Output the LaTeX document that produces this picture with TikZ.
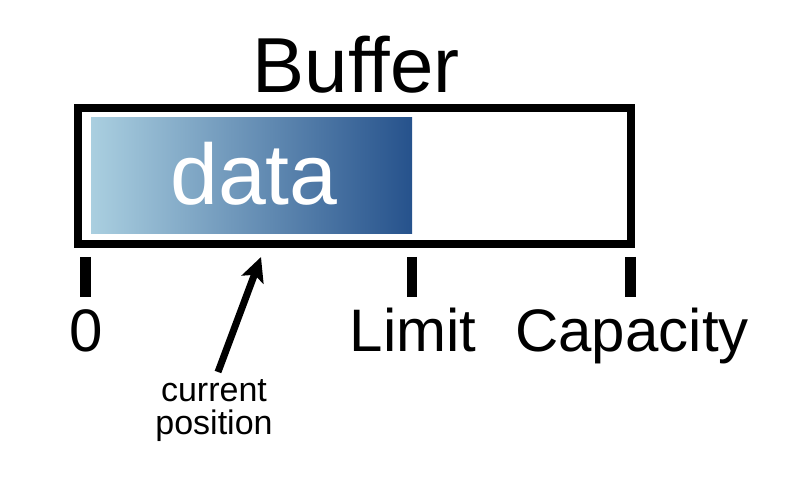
\documentclass[tikz,border=0pt]{standalone}
\usepackage{fontspec}
\setmainfont{Liberation Sans}
\usetikzlibrary{arrows.meta}
\definecolor{dataL}{RGB}{170,207,224}
\definecolor{dataR}{RGB}{38,82,140}
\tikzset{
  lbl/.style={anchor=base, inner sep=0pt, text=black},
  tick/.style={line width=10.5pt, draw=black},
}
\begin{document}
\begin{tikzpicture}[x=1pt,y=-1pt]
\useasboundingbox (0,0) rectangle (790,478);
% title
\node[lbl, font=\fontsize{78}{78}\selectfont] (title) at (356,93) {Buffer};
% data gradient
\shade[left color=dataL, right color=dataR, shading angle=90] (91,118) rectangle (412,234);
\node[lbl, text=white, font=\fontsize{86}{86}\selectfont] (data) at (254,205) {data};
% buffer frame
\draw[line width=8pt, line join=miter] (78,108) rectangle (631,244);
% ticks
\draw[tick] (85.5,257) -- (85.5,297);
\draw[tick] (412,257) -- (412,297);
\draw[tick] (630.5,257) -- (630.5,297);
% labels
\node[lbl, font=\fontsize{60}{60}\selectfont] (zero) at (86,352) {0};
\node[lbl, font=\fontsize{60}{60}\selectfont] (limit) at (413,352) {Limit};
\node[lbl, font=\fontsize{60}{60}\selectfont] (cap) at (632,352) {Capacity};
% current position
\node[lbl, align=center, font=\fontsize{34}{33}\selectfont] (cur) at (214,434) {current\\position};
\coordinate (tail) at (218,372);
\coordinate (tip) at (261,257);
\draw[line width=7pt, -{Stealth[length=24pt,width=23pt,inset=5pt]}] (tail) -- (tip);
\end{tikzpicture}
\end{document}
